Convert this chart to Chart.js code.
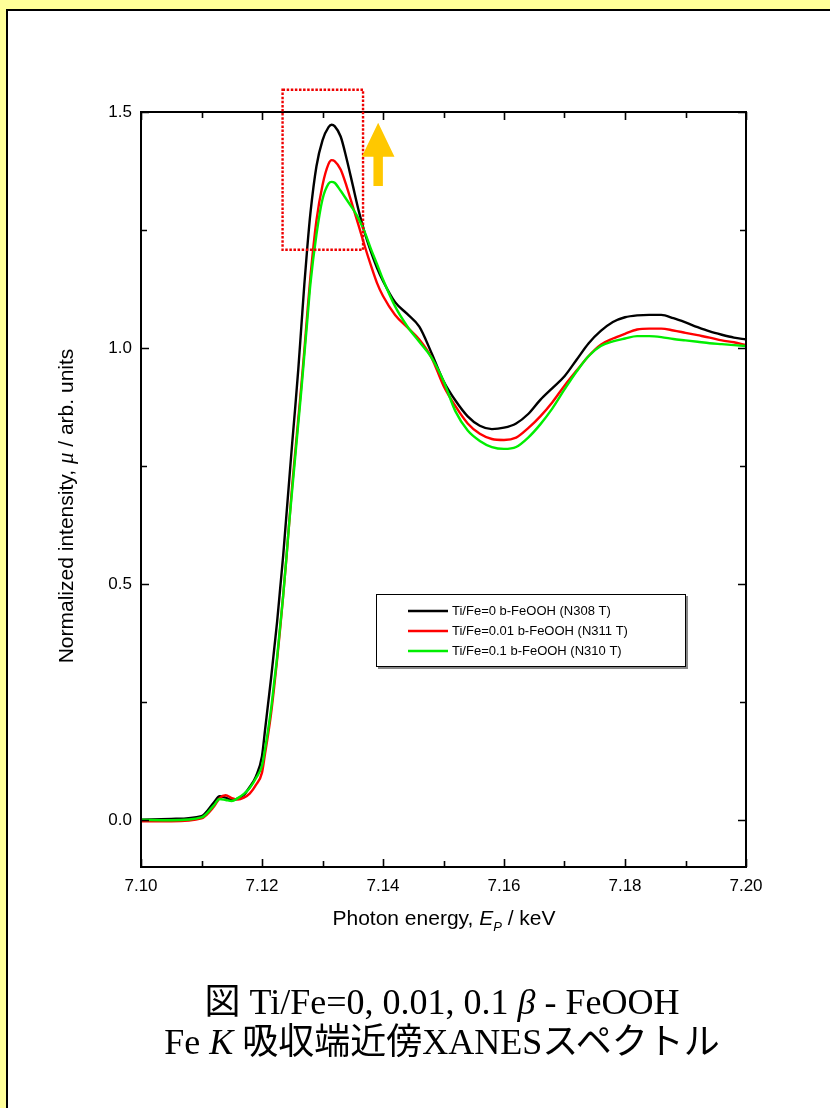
<!DOCTYPE html>
<html>
<head>
<meta charset="utf-8">
<script src="https://cdn.jsdelivr.net/npm/chart.js@4.4.1/dist/chart.umd.min.js"></script>
<style>
  html, body { margin: 0; padding: 0; width: 830px; height: 1108px; overflow: hidden; background: #ffff99; }
  #panel { position: absolute; left: 6px; top: 9px; width: 900px; height: 1200px; background: #fff; border: 2px solid #000; }
  #chart { position: absolute; left: 0; top: 0; }
  .caption { position: absolute; left: 0; width: 884px; text-align: center; font-family: "Liberation Serif", "Noto Sans CJK JP", serif; font-size: 36px; color: #000; line-height: 1; white-space: nowrap; }
  .caption i { font-style: italic; }
</style>
</head>
<body>
<div id="panel"></div>
<canvas id="chart" width="830" height="1108"></canvas>
<div class="caption" style="top:984px">図 Ti/Fe=0, 0.01, 0.1 <i>β</i> - FeOOH</div>
<div class="caption" style="top:1024px">Fe <i>K</i> 吸収端近傍XANESスペクトル</div>
<script>
// Fe K-edge XANES, three Ti/Fe ratios.
const energy = [
  7.100, 7.105, 7.110, 7.112, 7.113, 7.114, 7.115, 7.116, 7.117, 7.118, 7.119, 7.120,
  7.1205, 7.121, 7.1215, 7.122, 7.1225, 7.123, 7.1235, 7.124, 7.1245, 7.125, 7.1255, 7.126,
  7.1265, 7.127, 7.1275, 7.128, 7.129, 7.130, 7.131, 7.1315, 7.132, 7.133, 7.134, 7.135,
  7.136, 7.137, 7.138, 7.139, 7.140, 7.142, 7.144, 7.146, 7.148, 7.150, 7.152, 7.154,
  7.156, 7.158, 7.160, 7.162, 7.164, 7.166, 7.168, 7.170, 7.172, 7.174, 7.176, 7.178,
  7.180, 7.182, 7.184, 7.186, 7.188, 7.190, 7.192, 7.194, 7.196, 7.198, 7.200
];
const tiFe0 = [
  0.000, 0.002, 0.008, 0.036, 0.050, 0.047, 0.042, 0.045, 0.053, 0.070, 0.092, 0.135,
  0.19, 0.245, 0.30, 0.36, 0.42, 0.49, 0.56, 0.64, 0.72, 0.80, 0.875, 0.955,
  1.045, 1.135, 1.215, 1.285, 1.385, 1.44, 1.468, 1.473, 1.470, 1.448, 1.40, 1.345,
  1.29, 1.243, 1.204, 1.17, 1.142, 1.097, 1.072, 1.045, 0.99, 0.93, 0.888, 0.855,
  0.835, 0.828, 0.831, 0.84, 0.86, 0.89, 0.915, 0.94, 0.975, 1.01, 1.036, 1.055,
  1.065, 1.069, 1.07, 1.07, 1.063, 1.054, 1.044, 1.035, 1.028, 1.022, 1.018
];
const tiFe001 = [
  -0.003, -0.003, 0.003, 0.027, 0.046, 0.052, 0.046, 0.043, 0.047, 0.056, 0.074, 0.10,
  0.14, 0.18, 0.225, 0.28, 0.34, 0.405, 0.475, 0.55, 0.63, 0.71, 0.78, 0.85,
  0.92, 0.995, 1.075, 1.15, 1.27, 1.345, 1.39, 1.398, 1.396, 1.378, 1.342, 1.30,
  1.258, 1.215, 1.175, 1.138, 1.11, 1.07, 1.044, 1.018, 0.98, 0.92, 0.876, 0.84,
  0.818, 0.807, 0.805, 0.81, 0.83, 0.855, 0.885, 0.92, 0.952, 0.983, 1.007, 1.02,
  1.03, 1.039, 1.041, 1.041, 1.037, 1.032, 1.027, 1.022, 1.016, 1.012, 1.006
];
const tiFe01 = [
  0.000, -0.001, 0.005, 0.030, 0.044, 0.042, 0.040, 0.046, 0.055, 0.068, 0.088, 0.115,
  0.15, 0.19, 0.235, 0.29, 0.345, 0.41, 0.475, 0.55, 0.63, 0.70, 0.77, 0.84,
  0.91, 0.985, 1.06, 1.135, 1.24, 1.315, 1.348, 1.352, 1.350, 1.333, 1.314, 1.295,
  1.273, 1.245, 1.21, 1.178, 1.145, 1.088, 1.046, 1.013, 0.98, 0.93, 0.865, 0.825,
  0.803, 0.79, 0.786, 0.79, 0.81, 0.838, 0.872, 0.912, 0.95, 0.983, 1.004, 1.014,
  1.02, 1.025, 1.025, 1.023, 1.019, 1.016, 1.013, 1.01, 1.008, 1.006, 1.004
];
const seriesLabels = [
  "Ti/Fe=0 b-FeOOH (N308 T)",
  "Ti/Fe=0.01 b-FeOOH (N311 T)",
  "Ti/Fe=0.1 b-FeOOH (N310 T)"
];
const seriesColors = ["#000000", "#ff0000", "#00ee00"];
const xTicks = [7.10, 7.11, 7.12, 7.13, 7.14, 7.15, 7.16, 7.17, 7.18, 7.19, 7.20];
const yTicks = [0, 0.25, 0.5, 0.75, 1.0, 1.25, 1.5];

// highlighted peak region and arrow, in data units
const peakBox = { x0: 7.1234, x1: 7.1367, y0: 1.208, y1: 1.547 };
const arrow = { x: 7.1392, tip: 1.477, headBase: 1.405, bottom: 1.343, headHalf: 0.0027, shaftHalf: 0.00078 };

const SANS = '"Liberation Sans", Arial, sans-serif';
const SERIF = '"Liberation Serif", "Times New Roman", serif';

function pts(ys) {
  return energy.map((x, i) => ({ x: x, y: ys[i] }));
}

const isMajorX = (v) => Math.round(v * 1000) % 20 === 0;
const isMajorY = (v) => Math.round(v * 100) % 50 === 0;

const framePlugin = {
  id: "frame",
  afterDraw(chart) {
    const ctx = chart.ctx;
    const a = chart.chartArea;
    const xs = chart.scales.x;
    const ys = chart.scales.y;
    ctx.save();

    // axis frame + inward ticks on all four sides
    ctx.strokeStyle = "#000";
    ctx.lineWidth = 2;
    ctx.strokeRect(a.left, a.top, a.right - a.left, a.bottom - a.top);
    ctx.lineWidth = 1.6;
    ctx.beginPath();
    xTicks.forEach((v) => {
      const px = Math.round(xs.getPixelForValue(v)) + 0.5;
      const len = isMajorX(v) ? 8 : 6;
      ctx.moveTo(px, a.bottom); ctx.lineTo(px, a.bottom - len);
      ctx.moveTo(px, a.top); ctx.lineTo(px, a.top + len);
    });
    yTicks.forEach((v) => {
      const py = Math.round(ys.getPixelForValue(v)) + 0.5;
      const len = isMajorY(v) ? 8 : 6;
      ctx.moveTo(a.left, py); ctx.lineTo(a.left + len, py);
      ctx.moveTo(a.right, py); ctx.lineTo(a.right - len, py);
    });
    ctx.stroke();

    // dotted box around the white line peak
    const bx0 = xs.getPixelForValue(peakBox.x0), bx1 = xs.getPixelForValue(peakBox.x1);
    const by0 = ys.getPixelForValue(peakBox.y0), by1 = ys.getPixelForValue(peakBox.y1);
    ctx.strokeStyle = "#ee0000";
    ctx.lineWidth = 2.4;
    ctx.setLineDash([2.5, 1.6]);
    ctx.strokeRect(bx0, by1, bx1 - bx0, by0 - by1);
    ctx.setLineDash([]);

    // arrow
    const ax = xs.getPixelForValue(arrow.x);
    const hh = xs.getPixelForValue(arrow.x + arrow.headHalf) - ax;
    const sh = xs.getPixelForValue(arrow.x + arrow.shaftHalf) - ax;
    const tipY = ys.getPixelForValue(arrow.tip);
    const baseY = ys.getPixelForValue(arrow.headBase);
    const botY = ys.getPixelForValue(arrow.bottom);
    ctx.fillStyle = "#ffc800";
    ctx.beginPath();
    ctx.moveTo(ax, tipY);
    ctx.lineTo(ax + hh, baseY);
    ctx.lineTo(ax + sh, baseY);
    ctx.lineTo(ax + sh, botY);
    ctx.lineTo(ax - sh, botY);
    ctx.lineTo(ax - sh, baseY);
    ctx.lineTo(ax - hh, baseY);
    ctx.closePath();
    ctx.fill();

    // legend box
    const lx = 376, ly = 594, lw = 310, lh = 73;
    ctx.fillStyle = "#888";
    ctx.fillRect(lx + 2, ly + 2, lw, lh);
    ctx.fillStyle = "#fff";
    ctx.fillRect(lx, ly, lw, lh);
    ctx.strokeStyle = "#000";
    ctx.lineWidth = 1;
    ctx.strokeRect(lx + 0.5, ly + 0.5, lw - 1, lh - 1);
    ctx.font = "13px " + SANS;
    ctx.textBaseline = "middle";
    seriesLabels.forEach((lab, i) => {
      const yy = ly + 17 + i * 20;
      ctx.strokeStyle = seriesColors[i];
      ctx.lineWidth = 2.5;
      ctx.beginPath();
      ctx.moveTo(408, yy); ctx.lineTo(448, yy);
      ctx.stroke();
      ctx.fillStyle = "#000";
      ctx.textAlign = "left";
      ctx.fillText(lab, 452, yy);
    });

    // axis titles with italic symbols
    ctx.fillStyle = "#000";
    ctx.textBaseline = "alphabetic";
    const norm = "21px " + SANS;
    const ital = "italic 23px " + SERIF;
    // y title, rotated
    const yParts = [["Normalized intensity, ", norm], ["\u03bc", ital], [" / arb. units", norm]];
    let total = 0;
    yParts.forEach((p) => { ctx.font = p[1]; total += ctx.measureText(p[0]).width; });
    ctx.save();
    ctx.translate(73, 506);
    ctx.rotate(-Math.PI / 2);
    let cx = -total / 2;
    ctx.textAlign = "left";
    yParts.forEach((p) => { ctx.font = p[1]; ctx.fillText(p[0], cx, 0); cx += ctx.measureText(p[0]).width; });
    ctx.restore();

    // x title: Photon energy, E_P / keV
    const xParts = [
      ["Photon energy, ", norm, 0],
      ["E", "italic 21px " + SANS, 0],
      ["P", "italic 13px " + SANS, 6],
      [" / keV", norm, 0]
    ];
    total = 0;
    xParts.forEach((p) => { ctx.font = p[1]; total += ctx.measureText(p[0]).width; });
    cx = 444 - total / 2;
    xParts.forEach((p) => { ctx.font = p[1]; ctx.fillText(p[0], cx, 925 + p[2]); cx += ctx.measureText(p[0]).width; });

    ctx.restore();
  }
};

new Chart(document.getElementById("chart"), {
  type: "line",
  data: {
    datasets: [
      { label: seriesLabels[0], data: pts(tiFe0), borderColor: seriesColors[0], order: 3 },
      { label: seriesLabels[1], data: pts(tiFe001), borderColor: seriesColors[1], order: 2 },
      { label: seriesLabels[2], data: pts(tiFe01), borderColor: seriesColors[2], order: 1 }
    ]
  },
  options: {
    responsive: false,
    animation: false,
    devicePixelRatio: 1,
    layout: { padding: { top: 112, right: 84, left: 0, bottom: 0 } },
    elements: {
      line: { borderWidth: 2.4, cubicInterpolationMode: "monotone", fill: false },
      point: { radius: 0 }
    },
    plugins: { legend: { display: false }, tooltip: { enabled: false } },
    scales: {
      x: {
        type: "linear",
        min: 7.10,
        max: 7.20,
        grid: { display: false, drawTicks: false },
        border: { display: false },
        afterBuildTicks: (s) => { s.ticks = xTicks.map((v) => ({ value: v })); },
        afterFit: (s) => { s.height = 241; },
        ticks: {
          autoSkip: false,
          maxRotation: 0,
          padding: 9,
          color: "#000",
          font: { family: SANS, size: 17 },
          callback: (v) => (isMajorX(v) ? v.toFixed(2) : "")
        }
      },
      y: {
        type: "linear",
        min: -0.1,
        max: 1.5,
        grid: { display: false, drawTicks: false },
        border: { display: false },
        afterBuildTicks: (s) => { s.ticks = yTicks.map((v) => ({ value: v })); },
        afterFit: (s) => { s.width = 141; },
        ticks: {
          autoSkip: false,
          padding: 9,
          color: "#000",
          font: { family: SANS, size: 17 },
          callback: (v) => (isMajorY(v) ? v.toFixed(1) : "")
        }
      }
    }
  },
  plugins: [framePlugin]
});
</script>
</body>
</html>
